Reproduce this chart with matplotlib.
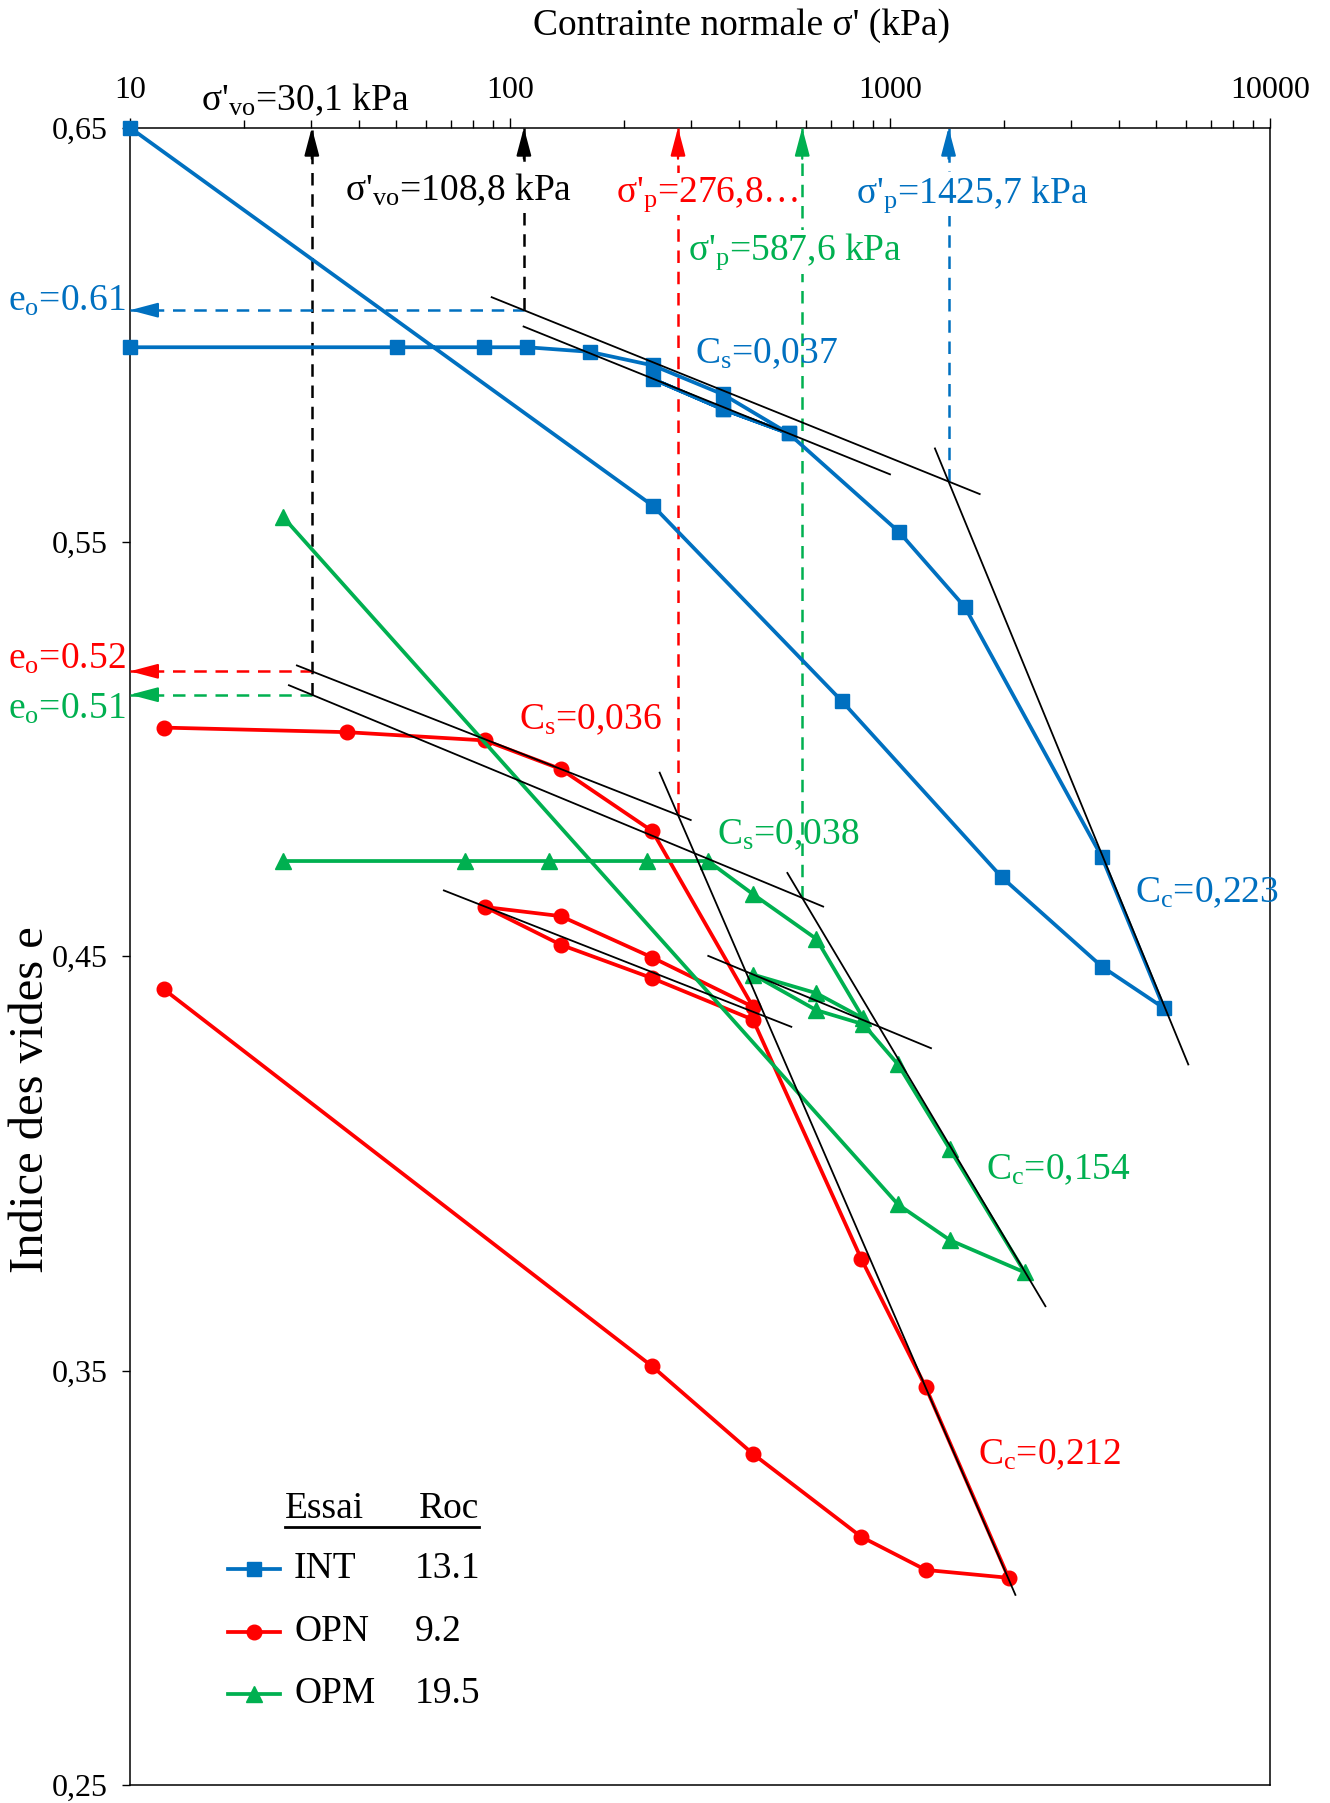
import numpy as np
import matplotlib
matplotlib.use('Agg')
import matplotlib.pyplot as plt
from matplotlib.lines import Line2D
from matplotlib.ticker import FixedLocator, LogLocator, NullFormatter

# police proche de Times New Roman
plt.rcParams['font.family'] = ['Liberation Serif', 'DejaVu Serif']
plt.rcParams['mathtext.fontset'] = 'custom'
plt.rcParams['mathtext.rm'] = 'Liberation Serif'
plt.rcParams['mathtext.it'] = 'Liberation Serif:italic'

# ---- données oedométriques (contrainte en kPa, indice des vides e) ----
int_sig = [10, 50.5, 85.7, 111, 162, 238, 364, 541, 364, 238, 364, 541,
           1057, 1574, 3613, 5260, 3613, 1968, 747, 238, 10]
int_e = [0.597, 0.597, 0.597, 0.597, 0.5959, 0.5926, 0.5856, 0.5762, 0.5820,
         0.5893, 0.5820, 0.5762, 0.5524, 0.5343, 0.4739, 0.4375, 0.4475,
         0.4691, 0.5116, 0.5587, 0.650]

opn_sig = [12.3, 37.2, 86, 136, 237, 436, 237, 136, 86, 136, 237, 436,
           840, 1242, 2051, 1242, 840, 436, 237, 12.3]
opn_e = [0.5052, 0.5041, 0.5021, 0.4952, 0.4802, 0.4378, 0.4497, 0.4597,
         0.4619, 0.4528, 0.4447, 0.4347, 0.3770, 0.3460, 0.3000, 0.3019,
         0.3099, 0.3299, 0.3510, 0.4420]

opm_sig = [25.3, 76.2, 127, 230, 332, 436, 640, 851, 640, 436, 640, 851,
           1050, 1438, 2264, 1438, 1050, 25.3]
opm_e = [0.4730, 0.4730, 0.4730, 0.4730, 0.4730, 0.4650, 0.4542, 0.4350,
         0.4411, 0.4456, 0.4370, 0.4336, 0.4239, 0.4034, 0.3737, 0.3815,
         0.3901, 0.5560]

essais = ['INT', 'OPN', 'OPM']
roc = ['13.1', '9.2', '19.5']
couleurs = ['#0070C0', '#FF0000', '#00B050']
marqueurs = ['s', 'o', '^']

# contraintes verticales en place et de préconsolidation
svo_30 = 30.1
svo_108 = 108.8
sp_int, sp_opn, sp_opm = 1425.7, 276.8, 587.6
ep_int, ep_opn, ep_opm = 0.5646, 0.4841, 0.4641

# droites Cs / Cc : (C, sigma_ref, e_ref, sigma_debut, sigma_fin)
tangentes = [
    (0.037, sp_int, ep_int, 89.5, 1722),
    (0.037, 541, 0.5762, 108.6, 1000),
    (0.223, sp_int, ep_int, 1313, 6095),
    (0.036, sp_opn, ep_opn, 27.5, 299),
    (0.036, 67.0, 0.4659, 67.0, 550),
    (0.212, sp_opn, ep_opn, 247.7, 2138),
    (0.038, sp_opm, ep_opm, 26.2, 667),
    (0.038, 332.5, 0.4501, 332.5, 1282),
    (0.154, sp_opm, ep_opm, 537, 2565),
]

y_ticks = [0.25, 0.35, 0.45, 0.55, 0.65]
y_tick_labels = ['0,25', '0,35', '0,45', '0,55', '0,65']


def droite(c, s_ref, e_ref, s):
    return e_ref - c * np.log10(np.asarray(s) / s_ref)


e0_int = droite(0.037, sp_int, ep_int, svo_108)
e0_opn = droite(0.036, sp_opn, ep_opn, svo_30)
e0_opm = droite(0.038, sp_opm, ep_opm, svo_30)

fig = plt.figure(figsize=(13.3, 18.03), dpi=100)
ax = fig.add_axes([0.0977, 0.0100, 0.8572, 0.9192])
ax.set_xscale('log')
ax.set_xlim(10, 10000)
ax.set_ylim(0.25, 0.65)

# courbes
series = [(int_sig, int_e), (opn_sig, opn_e), (opm_sig, opm_e)]
tailles = [10.5, 10.5, 11.5]
for (s, e), c, m, t in zip(series, couleurs, marqueurs, tailles):
    ax.plot(s, e, color=c, lw=2.7, marker=m, ms=t, zorder=4, clip_on=False)

# droites de compressibilité
for c, s_ref, e_ref, s0, s1 in tangentes:
    ss = np.array([s0, s1])
    ax.plot(ss, droite(c, s_ref, e_ref, ss), color='black', lw=1.3, zorder=5)


def fleche(x0, y0, x1, y1, col):
    ax.annotate('', xy=(x1, y1), xytext=(x0, y0), annotation_clip=False,
                arrowprops=dict(arrowstyle='-|>,head_length=1.7,head_width=0.45',
                                color=col, lw=1.6, shrinkA=0, shrinkB=0),
                zorder=6)


dash = dict(lw=1.8, dashes=(5, 3.5), zorder=3)
# verticales (contraintes)
verticales = [(svo_30, e0_opm, 'black'), (svo_108, e0_int, 'black'),
              (sp_opn, ep_opn, couleurs[1]), (sp_opm, ep_opm, couleurs[2]),
              (sp_int, ep_int, couleurs[0])]
for s, e_bas, col in verticales:
    ax.plot([s, s], [e_bas, 0.65], color=col, **dash)
    fleche(s, 0.65 - 0.0075, s, 0.65, col)

# horizontales (e0)
horizontales = [(svo_108, e0_int, couleurs[0]), (svo_30, e0_opn, couleurs[1]),
                (svo_30, e0_opm, couleurs[2])]
for s, e, col in horizontales:
    ax.plot([10, s], [e, e], color=col, **dash)
    fleche(11.8, e, 10, e, col)

# textes
fs = 27
boite = dict(facecolor='white', edgecolor='none', pad=1)
ax.text(28.9, 0.6567, r"σ'$_\mathregular{vo}$=30,1 kPa", fontsize=fs,
        ha='center', va='center', color='black')
ax.text(73.1, 0.6350, r"σ'$_\mathregular{vo}$=108,8 kPa", fontsize=fs,
        ha='center', va='center', color='black', bbox=boite, zorder=7)
ax.text(330, 0.6339, r"σ'$_\mathregular{p}$=276,8…", fontsize=fs,
        ha='center', va='center', color=couleurs[1], bbox=boite, zorder=7)
ax.text(564, 0.6200, r"σ'$_\mathregular{p}$=587,6 kPa", fontsize=fs,
        ha='center', va='center', color=couleurs[2], bbox=boite, zorder=7)
ax.text(1652, 0.6339, r"σ'$_\mathregular{p}$=1425,7 kPa", fontsize=fs,
        ha='center', va='center', color=couleurs[0], bbox=boite, zorder=7)

ax.text(474, 0.5954, r"C$_\mathregular{s}$=0,037", fontsize=fs, ha='center',
        va='center', color=couleurs[0], zorder=7)
ax.text(163, 0.5071, r"C$_\mathregular{s}$=0,036", fontsize=fs, ha='center',
        va='center', color=couleurs[1], zorder=7)
ax.text(541, 0.4794, r"C$_\mathregular{s}$=0,038", fontsize=fs, ha='center',
        va='center', color=couleurs[2], zorder=7)
ax.text(6808, 0.4653, r"C$_\mathregular{c}$=0,223", fontsize=fs, ha='center',
        va='center', color=couleurs[0], zorder=7)
ax.text(2768, 0.3984, r"C$_\mathregular{c}$=0,154", fontsize=fs, ha='center',
        va='center', color=couleurs[2], zorder=7)
ax.text(2637, 0.3296, r"C$_\mathregular{c}$=0,212", fontsize=fs, ha='center',
        va='center', color=couleurs[1], zorder=7)

ax.text(6.81, 0.6081, r"e$_\mathregular{o}$=0.61", fontsize=fs, ha='center',
        va='center', color=couleurs[0])
ax.text(6.81, 0.5216, r"e$_\mathregular{o}$=0.52", fontsize=fs, ha='center',
        va='center', color=couleurs[1])
ax.text(6.81, 0.5096, r"e$_\mathregular{o}$=0.51", fontsize=fs, ha='center',
        va='center', color=couleurs[2])

# légende faite à la main
ax.text(0.136, 0.1664, 'Essai', transform=ax.transAxes, fontsize=fs,
        ha='left', va='center')
ax.text(0.306, 0.1664, 'Roc', transform=ax.transAxes, fontsize=fs,
        ha='right', va='center')
ax.plot([0.136, 0.306], [0.1555, 0.1555], transform=ax.transAxes,
        color='black', lw=2)
lignes_y = [0.1304, 0.0922, 0.0548]
for nom, r, c, m, t, yy in zip(essais, roc, couleurs, marqueurs, tailles, lignes_y):
    ax.add_line(Line2D([0.0857, 0.132], [yy, yy], transform=ax.transAxes,
                       color=c, lw=2.7))
    ax.add_line(Line2D([0.109], [yy], transform=ax.transAxes, color=c,
                       marker=m, ms=t))
    ax.text(0.144, yy, nom, transform=ax.transAxes, fontsize=fs,
            ha='left', va='center')
    ax.text(0.250, yy, r, transform=ax.transAxes, fontsize=fs,
            ha='left', va='center')

# axes
ax.xaxis.tick_top()
ax.xaxis.set_minor_locator(LogLocator(base=10, subs=np.arange(2, 10), numticks=30))
ax.xaxis.set_minor_formatter(NullFormatter())
ax.set_xticks([10, 100, 1000, 10000])
ax.set_xticklabels(['10', '100', '1000', '10000'])
ax.yaxis.set_major_locator(FixedLocator(y_ticks))
ax.set_yticklabels(y_tick_labels)
ax.tick_params(axis='x', which='major', direction='out', length=7, width=1,
               labelsize=23, pad=9)
ax.tick_params(axis='x', which='minor', direction='out', length=6, width=1)
ax.tick_params(axis='y', which='major', direction='out', length=6, width=1,
               labelsize=23, pad=10)
for sp in ax.spines.values():
    sp.set_linewidth(1.1)

fig.text(0.5575, 0.986, "Contrainte normale σ' (kPa)", fontsize=27,
         ha='center', va='center')
fig.text(0.0233, 0.390, 'Indice des vides e', fontsize=35, rotation=90,
         ha='center', va='center')

fig.savefig('out.png', dpi=100)
